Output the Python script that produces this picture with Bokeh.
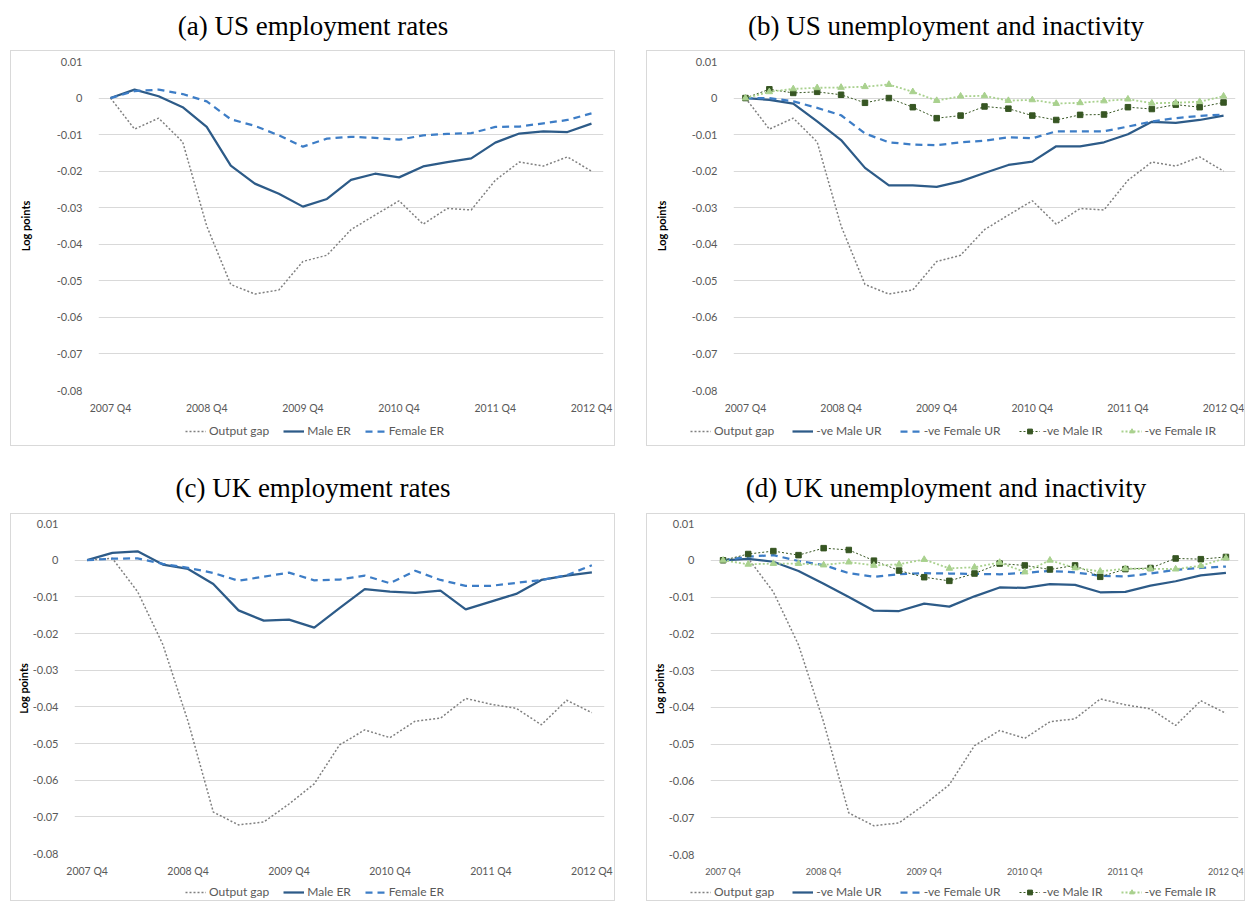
from bokeh.plotting import figure
from bokeh.layouts import column, row
from bokeh.models import Range1d, FixedTicker, Legend, LegendItem
from bokeh.core.properties import value
from bokeh.embed import file_html
from bokeh.resources import INLINE

# ---------------- data ----------------
quarters = ["2007 Q4", "2008 Q1", "2008 Q2", "2008 Q3", "2008 Q4", "2009 Q1", "2009 Q2",
            "2009 Q3", "2009 Q4", "2010 Q1", "2010 Q2", "2010 Q3", "2010 Q4", "2011 Q1",
            "2011 Q2", "2011 Q3", "2011 Q4", "2012 Q1", "2012 Q2", "2012 Q3", "2012 Q4"]
x_tick_labels = ["2007 Q4", "2008 Q4", "2009 Q4", "2010 Q4", "2011 Q4", "2012 Q4"]
y_ticks = [0.01, 0.0, -0.01, -0.02, -0.03, -0.04, -0.05, -0.06, -0.07, -0.08]
y_tick_labels = ["0.01", "0", "-0.01", "-0.02", "-0.03", "-0.04", "-0.05", "-0.06", "-0.07", "-0.08"]

titles = ["(a) US employment rates", "(b) US unemployment and inactivity",
          "(c) UK employment rates", "(d) UK unemployment and inactivity"]

us_output_gap = [0, -0.0085, -0.0055, -0.012, -0.035, -0.051, -0.0536, -0.0525, -0.0447, -0.043,
                 -0.036, -0.032, -0.0281, -0.0345, -0.0302, -0.0306, -0.0225, -0.0175, -0.0186,
                 -0.0161, -0.02]
us_male_er = [0, 0.0023, 0.0005, -0.0025, -0.0079, -0.0185, -0.0234, -0.0262, -0.0297, -0.0276,
              -0.0224, -0.0207, -0.0217, -0.0187, -0.0175, -0.0165, -0.0122, -0.0097, -0.0091,
              -0.0093, -0.007]
us_female_er = [0, 0.0019, 0.0023, 0.0011, -0.0009, -0.0058, -0.0076, -0.0102, -0.0133, -0.0111,
                -0.0106, -0.0109, -0.0114, -0.0102, -0.0098, -0.0096, -0.0079, -0.0078, -0.0069,
                -0.006, -0.0042]
us_male_ur = [0, -0.0005, -0.0015, -0.0064, -0.0115, -0.0191, -0.0239, -0.0239, -0.0243, -0.0228,
              -0.0205, -0.0183, -0.0174, -0.0132, -0.0132, -0.0121, -0.0099, -0.0065, -0.0068,
              -0.006, -0.0048]
us_female_ur = [0, 0.0, -0.0009, -0.0027, -0.0047, -0.0097, -0.0121, -0.0127, -0.0129, -0.0121,
                -0.0117, -0.0107, -0.011, -0.0091, -0.0091, -0.0091, -0.0078, -0.0064, -0.0055,
                -0.0049, -0.0045]
us_male_ir = [0, 0.0024, 0.0014, 0.0017, 0.0009, -0.0013, 0.0, -0.0025, -0.0055, -0.0048,
              -0.0023, -0.0029, -0.0048, -0.006, -0.0046, -0.0045, -0.0025, -0.003, -0.0018,
              -0.0025, -0.0012]
us_female_ir = [0, 0.0017, 0.0025, 0.0028, 0.0029, 0.0031, 0.0037, 0.0017, -0.0007, 0.0005,
                0.0006, -0.0007, -0.0005, -0.0015, -0.0013, -0.0008, -0.0003, -0.0014, -0.0013,
                -0.001, 0.0005]

uk_output_gap = [0, 0.0005, -0.0086, -0.023, -0.044, -0.0687, -0.0722, -0.0714, -0.0665, -0.061,
                 -0.0504, -0.0463, -0.0484, -0.0439, -0.0431, -0.0377, -0.0393, -0.0404, -0.0449,
                 -0.0382, -0.0416]
uk_male_er = [0, 0.002, 0.0024, -0.0012, -0.0024, -0.0065, -0.0137, -0.0165, -0.0162, -0.0184,
              -0.0131, -0.0079, -0.0086, -0.0089, -0.0083, -0.0134, -0.0113, -0.0092, -0.0054,
              -0.0042, -0.0033]
uk_female_er = [0, 0.0004, 0.0005, -0.001, -0.0021, -0.0035, -0.0056, -0.0045, -0.0034, -0.0055,
                -0.0053, -0.0042, -0.0063, -0.0029, -0.0054, -0.007, -0.007, -0.0062, -0.0054,
                -0.0041, -0.0014]
uk_male_ur = [0, 0.0004, -0.0004, -0.0029, -0.0064, -0.01, -0.0137, -0.0138, -0.0118, -0.0126,
              -0.0098, -0.0074, -0.0075, -0.0065, -0.0067, -0.0087, -0.0086, -0.0069, -0.0057,
              -0.0041, -0.0034]
uk_female_ur = [0, 0.001, 0.0014, -0.0002, -0.0013, -0.0035, -0.0045, -0.0038, -0.0035, -0.0036,
                -0.0037, -0.0038, -0.0034, -0.0029, -0.0033, -0.0042, -0.0044, -0.0036, -0.0026,
                -0.0021, -0.0017]
uk_male_ir = [0, 0.0017, 0.0025, 0.0014, 0.0033, 0.0028, -0.0001, -0.0028, -0.0046, -0.0056,
              -0.0036, -0.0009, -0.0014, -0.0025, -0.0014, -0.0045, -0.0024, -0.0021, 0.0005,
              0.0003, 0.0009]
uk_female_ir = [0, -0.0011, -0.0009, -0.0009, -0.0013, -0.0005, -0.0014, -0.0011, 0.0002, -0.0022,
                -0.0019, -0.0006, -0.0032, 0.0, -0.0021, -0.003, -0.0023, -0.0023, -0.0024,
                -0.0015, 0.0006]

# ---------------- styles ----------------
TICK_FONT = "Lato"
GRAY_TEXT = "#595959"
GRID = "#d9d9d9"
BOX = {"border": "1px solid #d9d9d9"}
NAN = float("nan")

STYLES = {
    "Output gap": dict(color="#808080", width=1.5, dash="2 2", marker=None),
    "Male ER": dict(color="#2d5b88", width=2.25, dash="solid", marker=None),
    "Female ER": dict(color="#3d7dc6", width=2.25, dash="7 5", marker=None),
    "-ve Male UR": dict(color="#2d5b88", width=2.25, dash="solid", marker=None),
    "-ve Female UR": dict(color="#3d7dc6", width=2.25, dash="7 5", marker=None),
    "-ve Male IR": dict(color="#375623", width=1.0, dash="2 2", marker="square", msize=5.5),
    "-ve Female IR": dict(color="#a9d18e", width=1.8, dash="2 2", marker="triangle", msize=6.5),
}

xs = list(range(len(quarters)))
x_tick_pos = [quarters.index(q) for q in x_tick_labels]


def blank_fig(w, h):
    f = figure(width=w, height=h, x_range=Range1d(0, 1), y_range=Range1d(0, h),
               toolbar_location=None, output_backend="svg", min_border=0,
               x_axis_location=None, y_axis_location=None, outline_line_color=None,
               frame_align=False)
    f.xgrid.visible = False
    f.ygrid.visible = False
    return f


def make_title(w, h, text, yc):
    t = blank_fig(w, h)
    t.text(x=[0.5], y=[yc], text=[text], text_align="center", text_baseline="middle",
           text_font=value("Liberation Serif"), text_font_size="27px", text_color="black")
    return t


def add_series(p, name, x, y):
    st = STYLES[name]
    rs = [p.line(x, y, line_color=st["color"], line_width=st["width"], line_dash=st["dash"])]
    if st["marker"]:
        rs.append(p.scatter(x, y, marker=st["marker"], size=st["msize"],
                            fill_color=st["color"], line_color=st["color"]))
    return rs


def make_chart(w, h, mbl, mbr, mbt, mbb, series, xfs, ylab_standoff):
    p = figure(width=w, height=h, x_range=Range1d(-0.5, 20.5), y_range=Range1d(-0.08, 0.01),
               toolbar_location=None, output_backend="svg", frame_align=False,
               min_border_left=mbl, min_border_right=mbr, min_border_top=mbt,
               min_border_bottom=mbb, outline_line_color=None)
    # x axis
    xa = p.xaxis[0]
    xa.ticker = FixedTicker(ticks=x_tick_pos)
    xa.major_label_overrides = {i: lab for i, lab in zip(x_tick_pos, x_tick_labels)}
    xa.axis_line_color = None
    xa.major_tick_line_color = None
    xa.minor_tick_line_color = None
    xa.major_label_standoff = 5
    xa.major_label_text_font = TICK_FONT
    xa.major_label_text_font_size = xfs
    xa.major_label_text_color = GRAY_TEXT
    # y axis
    ya = p.yaxis[0]
    ya.ticker = FixedTicker(ticks=y_ticks)
    ya.major_label_overrides = {v: lab for v, lab in zip(y_ticks, y_tick_labels)}
    ya.axis_line_color = None
    ya.major_tick_line_color = None
    ya.minor_tick_line_color = None
    ya.major_label_standoff = 10
    ya.major_label_text_font = TICK_FONT
    ya.major_label_text_font_size = "11px"
    ya.major_label_text_color = GRAY_TEXT
    ya.axis_label = "Log points"
    ya.axis_label_text_font = TICK_FONT
    ya.axis_label_text_font_style = "bold"
    ya.axis_label_text_font_size = "11px"
    ya.axis_label_text_color = "black"
    ya.axis_label_standoff = ylab_standoff
    # grid
    p.xgrid.visible = False
    p.ygrid.grid_line_color = GRID
    p.ygrid.grid_line_width = 1
    for name, ys in series:
        add_series(p, name, xs, ys)
    return p


def make_legend(w, h, names, lx, ly, spacing):
    f = blank_fig(w, h)
    items = [LegendItem(label=n, renderers=add_series(f, n, [NAN], [NAN])) for n in names]
    leg = Legend(items=items, orientation="horizontal", location=(lx, ly),
                 padding=0, margin=0, spacing=spacing, label_standoff=3,
                 glyph_width=21, glyph_height=12, label_height=12,
                 border_line_color=None, background_fill_alpha=0,
                 label_text_font=TICK_FONT, label_text_font_size="12px",
                 label_text_color=GRAY_TEXT)
    f.add_layout(leg, "center")
    return f


LW, RW = 603, 597          # canvas widths (plus 1px border each side)

er_names = ["Output gap", "Male ER", "Female ER"]
ur_names = ["Output gap", "-ve Male UR", "-ve Female UR", "-ve Male IR", "-ve Female IR"]

pA = make_chart(LW, 365, 87, 11, 10, 24,
                list(zip(er_names, [us_output_gap, us_male_er, us_female_er])), "10.5px", 22)
lA = make_legend(LW, 29, er_names, 174, 7, 14)
pB = make_chart(RW, 365, 86, 9, 10, 24,
                list(zip(ur_names, [us_output_gap, us_male_ur, us_female_ur, us_male_ir,
                                    us_female_ir])), "10.5px", 21)
lB = make_legend(RW, 29, ur_names, 43, 7, 18)
pC = make_chart(LW, 365, 63, 10, 9, 24,
                list(zip(er_names, [uk_output_gap, uk_male_er, uk_female_er])), "10.5px", 0)
lC = make_legend(LW, 21, er_names, 174, 1, 14)
pD = make_chart(RW, 365, 63, 6, 9, 24,
                list(zip(ur_names, [uk_output_gap, uk_male_ur, uk_female_ur, uk_male_ir,
                                    uk_female_ir])), "9px", 0)
lD = make_legend(RW, 21, ur_names, 43, 1, 18)

boxA = column(pA, lA, spacing=0, styles=BOX)
boxB = column(pB, lB, spacing=0, styles=BOX)
boxC = column(pC, lC, spacing=0, styles=BOX)
boxD = column(pD, lD, spacing=0, styles=BOX)

tA = make_title(LW + 2, 50, titles[0], 25)
tB = make_title(RW + 2, 50, titles[1], 25)
tC = make_title(LW + 2, 67, titles[2], 26)
tD = make_title(RW + 2, 67, titles[3], 26)

left = column(tA, boxA, tC, boxC, spacing=0, margin=(0, 0, 0, 10))
right = column(tB, boxB, tD, boxD, spacing=0)
root = row(left, right, spacing=31)

open("out.html", "w").write(file_html(root, INLINE))
